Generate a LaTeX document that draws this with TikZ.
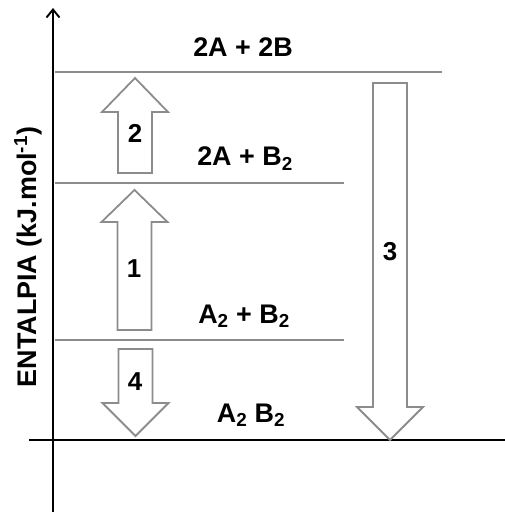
\documentclass[tikz,border=0pt]{standalone}
\usepackage{fontspec}
\setmainfont{Liberation Sans}
\usetikzlibrary{arrows.meta}

% block arrow: x, tail y, head base y, tip y
\newcommand{\blockarr}[4]{%
  \draw[blockarrow] (#1-17,#2) -- (#1-17,#3) -- (#1-33,#3) -- (#1,#4)
    -- (#1+33,#3) -- (#1+17,#3) -- (#1+17,#2) -- cycle;}

\begin{document}
\begin{tikzpicture}[x=1bp, y=-1bp,
        axis/.style = {line width=1.9bp, black},
     enlevel/.style = {line width=1.8bp, gray!90},
  blockarrow/.style = {line width=1.8bp, draw=gray!90, fill=white, line join=miter},
         lbl/.style = {font=\fontsize{27}{31}\selectfont\bfseries, inner sep=0pt, anchor=base},
         num/.style = {font=\fontsize{26}{30}\selectfont\bfseries, inner sep=0pt},
                    ]
    \useasboundingbox (0,0) rectangle (505,514);
    % axes
    \coordinate (ybot) at (53,512);
    \coordinate (ytop) at (53,8);
    \coordinate (xl) at (29,440);
    \coordinate (xr) at (505,440);
    \draw[axis, -{Straight Barb[length=8bp,width=13bp,line width=1.9bp]}] (ybot) -- (ytop);
    \draw[axis] (xl) -- (xr);
    \node[lbl, rotate=90] (ylab) at (36,257) {ENTALPIA (kJ.mol\textsuperscript{-1})};
    % levels
    \foreach \name/\y/\xe in {l1/72/442, l2/183/344, l3/340/344}
    {
      \coordinate (\name a) at (55,\y);
      \coordinate (\name b) at (\xe,\y);
      \draw[enlevel] (\name a) -- (\name b);
    }
    \node[lbl] (s1) at (243,57)  {2A + 2B};
    \node[lbl] (s2) at (245,166) {2A + B\textsubscript{2}};
    \node[lbl] (s3) at (244,323) {A\textsubscript{2} + B\textsubscript{2}};
    \node[lbl] (s4) at (251,422) {A\textsubscript{2} B\textsubscript{2}};
    % arrows
    \blockarr{135}{173}{112}{78}
    \blockarr{134.5}{330}{222}{190}
    \blockarr{135.5}{349}{403}{436}
    \blockarr{390}{83}{407}{440}
    \node[num] (n2) at (135,133) {2};
    \node[num] (n1) at (134,269) {1};
    \node[num] (n4) at (135,382) {4};
    \node[num] (n3) at (390,252) {3};
\end{tikzpicture}
\end{document}
